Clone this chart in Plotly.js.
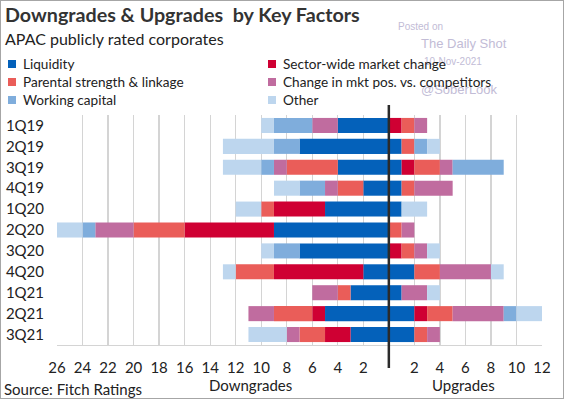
<!DOCTYPE html>
<html>
<head>
<meta charset="utf-8">
<script src="https://cdn.plot.ly/plotly-3.0.1.min.js"></script>
<style>
  html, body { margin: 0; padding: 0; background: #fff; }
  #wrap { position: relative; width: 564px; height: 399px; }
  #chart { width: 564px; height: 399px; }
  #frame { position: absolute; left: 0; top: 0; width: 564px; height: 399px; box-sizing: border-box; border: 1px solid #a6a6a6; pointer-events: none; }
</style>
</head>
<body>
<div id="wrap"><div id="chart"></div><div id="frame"></div></div>
<script>
// Categories (quarters)
const quarters = ['1Q19','2Q19','3Q19','4Q19','1Q20','2Q20','3Q20','4Q20','1Q21','2Q21','3Q21'];

// Series names and colours
const seriesNames = ['Liquidity','Sector-wide market change','Parental strength & linkage','Change in mkt pos. vs. competitors','Working capital','Other'];
const seriesColors = ['#0461BA','#CF0033','#EA5D59','#C06C9F','#7FADDC','#BDD6EE'];

// Downgrades (count) per factor
const downLiquidity = [4,7,4,2,5,9,7,2,3,5,3];
const downSector    = [0,0,0,0,4,7,0,7,0,1,2];
const downParental  = [0,0,4,2,1,4,0,3,1,3,2];
const downMktPos    = [2,0,1,1,0,3,0,0,2,2,1];
const downWorking   = [3,2,1,2,0,1,2,0,0,0,0];
const downOther     = [1,4,3,2,2,2,1,1,0,0,3];

// Upgrades (count) per factor
const upLiquidity = [0,1,1,1,1,0,0,2,1,2,2];
const upSector    = [1,0,1,0,0,0,1,0,0,1,0];
const upParental  = [1,1,2,1,0,1,1,2,0,2,1];
const upMktPos    = [1,0,1,3,0,1,1,4,2,4,1];
const upWorking   = [0,1,4,0,0,0,0,0,0,1,0];
const upOther     = [0,1,0,0,2,0,1,1,1,2,0];

// Axis ticks
const xTickVals = [-26,-24,-22,-20,-18,-16,-14,-12,-10,-8,-6,-4,-2,0,2,4,6,8,10,12];
const xTickText = ['26','24','22','20','18','16','14','12','10','8','6','4','2','','2','4','6','8','10','12'];

const downs = [downLiquidity, downSector, downParental, downMktPos, downWorking, downOther];
const ups = [upLiquidity, upSector, upParental, upMktPos, upWorking, upOther];

const FONT = 'Lato, "Open Sans", sans-serif';
const traces = [];
for (let i = 0; i < seriesNames.length; i++) {
  traces.push({
    type: 'bar', orientation: 'h', name: seriesNames[i],
    y: quarters, x: downs[i].map(v => -v),
    marker: {color: seriesColors[i], line: {width: 0}},
    showlegend: false, hoverinfo: 'skip'
  });
}
for (let i = 0; i < seriesNames.length; i++) {
  traces.push({
    type: 'bar', orientation: 'h', name: seriesNames[i],
    y: quarters, x: ups[i],
    marker: {color: seriesColors[i], line: {width: 0}},
    showlegend: false, hoverinfo: 'skip'
  });
}

const annotations = [
  {text: 'Downgrades & Upgrades  by Key Factors', x: 3, y: 14, font: {size: 19.7, color: '#333', family: FONT, weight: 'bold'}},
  {text: 'APAC publicly rated corporates', x: 3, y: 39, font: {size: 16, color: '#222', family: FONT}},
  {text: 'Downgrades', x: 250, y: 385, xanchor: 'center', font: {size: 15, color: '#222', family: FONT}},
  {text: 'Upgrades', x: 463, y: 385, xanchor: 'center', font: {size: 15, color: '#222', family: FONT}},
  {text: 'Source: Fitch Ratings', x: 2, y: 389, font: {size: 15, color: '#222', family: FONT}},
  {text: 'Posted on', x: 396, y: 26, font: {size: 10, color: '#c2bcd6', family: 'Liberation Sans, Arial'}},
  {text: 'The Daily Shot', x: 419, y: 43, font: {size: 13, color: '#c2bcd6', family: 'Liberation Sans, Arial'}},
  {text: '10-Nov-2021', x: 422, y: 61, font: {size: 10, color: '#c2bcd6', family: 'Liberation Sans, Arial'}},
  {text: '@SoberLook', x: 419, y: 89, font: {size: 13, color: '#c2bcd6', family: 'Liberation Sans, Arial'}}
];
const shapes = [];
// manual legend
const legX = [12, 272];
const legY = [64, 82, 100];
for (let i = 0; i < seriesNames.length; i++) {
  const col = i % 2, row = Math.floor(i / 2);
  const cx = legX[col], cy = legY[row];
  annotations.push({text: seriesNames[i], x: cx + 9, y: cy, xanchor: 'left', yanchor: 'middle',
    font: {size: 13.6, color: '#222', family: FONT}});
  shapes.push({type: 'rect', xref: 'paper', yref: 'paper', x0: 0, x1: 0, y0: 0, y1: 0,
    _px: [cx, cy], fillcolor: seriesColors[i], line: {width: 0}});
}

const W = 564, H = 399, ML = 57, MR = 22, MT = 115, MB = 54;
const PW = W - ML - MR, PH = H - MT - MB;
function px2paperX(p) { return (p - ML) / PW; }
function px2paperY(p) { return (H - MB - p) / PH; }

annotations.forEach(a => {
  a.xref = 'paper'; a.yref = 'paper';
  a.x = px2paperX(a.x); a.y = px2paperY(a.y);
  if (!a.xanchor) a.xanchor = 'left';
  if (!a.yanchor) a.yanchor = 'middle';
  a.showarrow = false;
});
shapes.forEach(s => {
  const [cx, cy] = s._px; delete s._px;
  s.x0 = px2paperX(cx - 4); s.x1 = px2paperX(cx + 4);
  s.y0 = px2paperY(cy + 4); s.y1 = px2paperY(cy - 4);
});
shapes.push({type: 'line', xref: 'x', yref: 'paper', x0: 0, x1: 0,
  y0: px2paperY(368), y1: px2paperY(105), line: {color: '#2b2b2b', width: 2.5}});

const layout = {
  width: W, height: H,
  margin: {l: ML, r: MR, t: MT, b: MB, pad: 0},
  paper_bgcolor: '#fff', plot_bgcolor: '#fff',
  barmode: 'relative', bargap: 0.28,
  showlegend: false,
  font: {family: FONT, color: '#222'},
  xaxis: {
    range: [-26, 12], tickvals: xTickVals, ticktext: xTickText,
    showgrid: true, gridcolor: '#d4d4d4', gridwidth: 1.3,
    zeroline: false, showline: true, linecolor: '#d4d4d4', linewidth: 1.3,
    ticks: '', ticklabelstandoff: 9,
    tickfont: {size: 15, color: '#222', family: FONT}, fixedrange: true
  },
  yaxis: {
    type: 'category', categoryorder: 'array', categoryarray: quarters,
    range: [10.5, -0.5], showgrid: false, zeroline: false, showline: false,
    ticks: '', ticklabelstandoff: 12,
    tickfont: {size: 15, color: '#222', family: FONT}, fixedrange: true
  },
  annotations: annotations, shapes: shapes
};

Plotly.newPlot('chart', traces, layout, {displayModeBar: false, staticPlot: true});
</script>
</body>
</html>
